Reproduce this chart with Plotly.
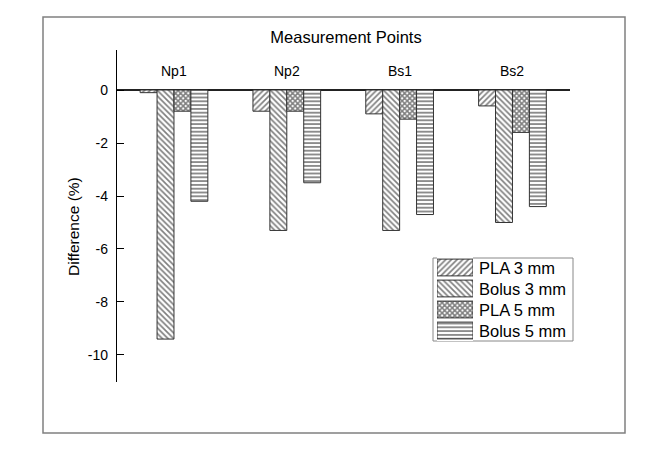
import plotly.graph_objects as go

categories = ["Np1", "Np2", "Bs1", "Bs2"]
series_names = ["PLA 3 mm", "Bolus 3 mm", "PLA 5 mm", "Bolus 5 mm"]
pla_3mm = [-0.1, -0.8, -0.9, -0.6]
bolus_3mm = [-9.4, -5.3, -5.3, -5.0]
pla_5mm = [-0.8, -0.8, -1.1, -1.6]
bolus_5mm = [-4.2, -3.5, -4.7, -4.4]
y_ticks = [0, -2, -4, -6, -8, -10]

series_values = [pla_3mm, bolus_3mm, pla_5mm, bolus_5mm]
patterns = [
    dict(shape="/", size=4, solidity=0.42),
    dict(shape="\\", size=4, solidity=0.42),
    dict(shape="x", size=3.6, solidity=0.68),
    dict(shape="-", size=3.8, solidity=0.45),
]

FONT = "Liberation Sans, Arial, sans-serif"

# page body has an 8px margin; positions below are in figure pixels
W, H = 660, 459
L, R, T, B = 109, 98, 42, 85
pw = W - L - R
ph = H - T - B

def px_x(p):
    return (p - L) / pw

def px_y(p):
    return (H - B - p) / ph

fig = go.Figure()
for name, vals, pat in zip(series_names, series_values, patterns):
    marker = dict(
        color="white",
        line=dict(color="#333333", width=1),
        pattern=dict(fgcolor="black", bgcolor="white", **pat),
    )
    fig.add_trace(go.Bar(x=categories, y=vals, name=name, marker=marker,
                         showlegend=False))
    # legend key swatch (drawn on a small helper axis inside the legend box)
    fig.add_trace(go.Bar(x=[1], y=[name], orientation="h", name=name,
                         marker=marker, width=0.8, offset=-0.4,
                         xaxis="x2", yaxis="y2", showlegend=False,
                         hoverinfo="skip"))

leg_left, leg_right, leg_top, leg_bot = 425, 565, 250, 333
sw_left, sw_right = 429, 465
row_top, row_bot = 249, 333

fig.update_layout(
    width=W, height=H,
    margin=dict(l=L, r=R, t=T, b=B),
    paper_bgcolor="white", plot_bgcolor="white",
    font=dict(family=FONT, size=14, color="black"),
    barmode="group", bargap=0.4, bargroupgap=0,
    title=dict(text="Measurement Points", x=px_x(338), xref="paper",
               xanchor="center", y=1 - 29 / H, yanchor="middle",
               font=dict(size=16.5, family=FONT, color="black")),
    showlegend=False,
    xaxis=dict(range=[-0.505, 3.51], showline=False, showgrid=False,
               zeroline=False, showticklabels=False, ticks=""),
    yaxis=dict(range=[-11.02, 1.51], tickvals=y_ticks,
               ticktext=[str(v) for v in y_ticks],
               showline=True, linecolor="black", linewidth=1.3,
               ticks="inside", ticklen=7, tickcolor="black", tickwidth=1.3,
               showgrid=False, zeroline=True, zerolinecolor="#222222",
               zerolinewidth=1.5, tickfont=dict(size=14, family=FONT),
               ticklabelstandoff=5),
    xaxis2=dict(domain=[px_x(sw_left), px_x(sw_right)], range=[0, 1],
                anchor="y2", visible=False, fixedrange=True),
    yaxis2=dict(domain=[px_y(row_bot), px_y(row_top)],
                categoryorder="array", categoryarray=series_names,
                range=[len(series_names) - 0.5, -0.5],
                anchor="x2", visible=False, fixedrange=True),
)

for c in categories:
    fig.add_annotation(x=c, y=0, xref="x", yref="y", text=c, showarrow=False,
                       yanchor="bottom", yshift=9,
                       font=dict(size=14, family=FONT, color="black"))

for name in series_names:
    fig.add_annotation(x=px_x(sw_right + 4), y=name, xref="paper", yref="y2",
                       text=name, showarrow=False, xanchor="left",
                       yanchor="middle",
                       font=dict(size=16.5, family=FONT, color="black"))

fig.add_shape(type="rect", xref="paper", yref="paper",
              x0=px_x(leg_left), x1=px_x(leg_right),
              y0=px_y(leg_bot), y1=px_y(leg_top),
              line=dict(color="#888888", width=1), fillcolor="white",
              layer="below")

fig.add_annotation(x=px_x(65), y=px_y(219), xref="paper", yref="paper",
                   text="Difference (%)", textangle=-90, showarrow=False,
                   xanchor="center", yanchor="middle",
                   font=dict(size=15.5, family=FONT, color="black"))

fig.add_shape(type="rect", xref="paper", yref="paper",
              x0=px_x(35), x1=px_x(617), y0=px_y(425), y1=px_y(9),
              line=dict(color="#808080", width=1.5), layer="below")

fig.write_html("out.html")
